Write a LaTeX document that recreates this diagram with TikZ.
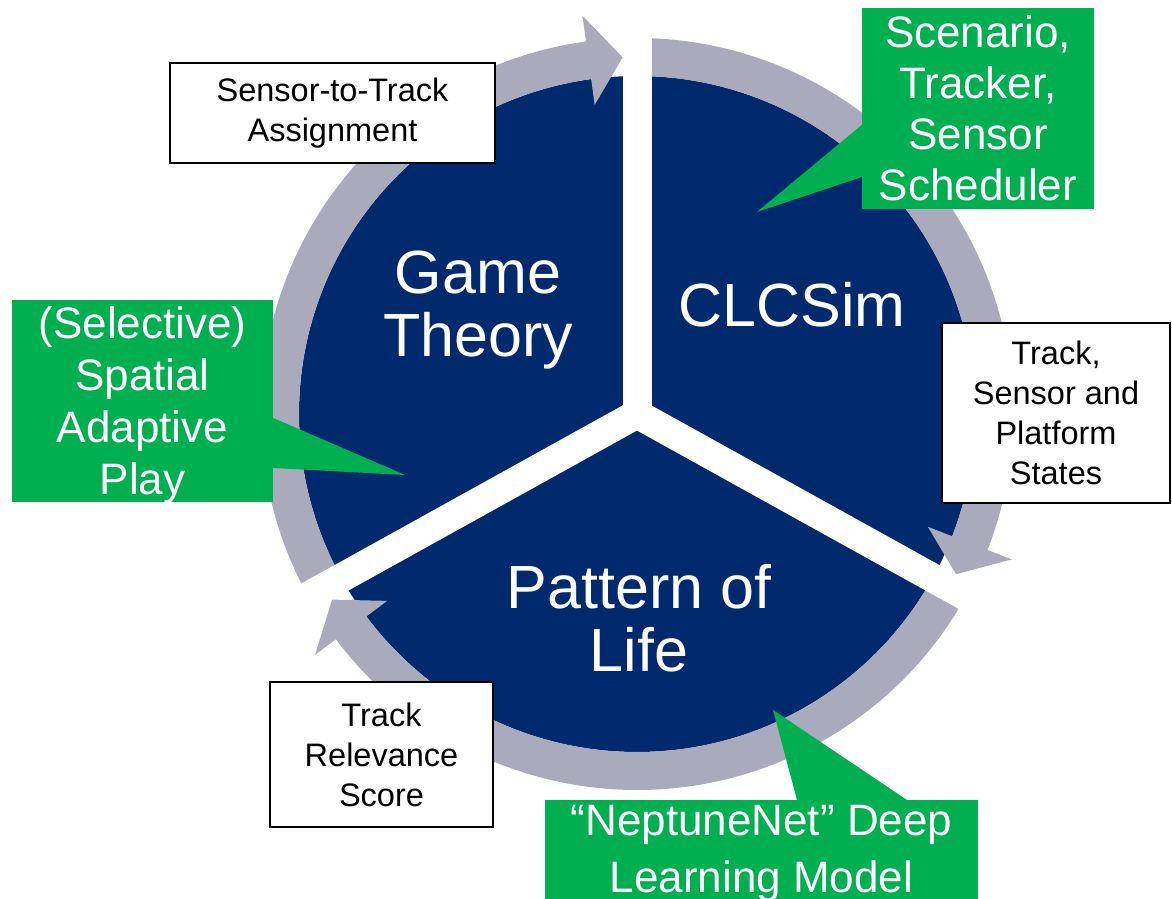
\documentclass[tikz,border=0pt]{standalone}
\usepackage{fontspec}
\setmainfont{Liberation Sans}
\usepackage{tikz}
\usetikzlibrary{positioning,calc}
\definecolor{CycleBlue}{RGB}{0, 41, 110}
\definecolor{RingGrey}{RGB}{169, 171, 189}
\definecolor{NoteGreen}{RGB}{0, 176, 80}

\begin{document}
\begin{tikzpicture}[x=1pt, y=1pt,
    sector/.style={text=white, align=center, font=\fontsize{61}{63}\selectfont},
    note/.style={fill=NoteGreen, text=white, align=center, inner sep=0pt, font=\fontsize{44}{51}\selectfont},
    info/.style={draw=black, line width=2.5pt, fill=white, align=center, inner sep=0pt, font=\fontsize{32.5}{40}\selectfont},
    ring/.style={fill=RingGrey},
    split/.style={draw=white, line width=29pt}
]
    \useasboundingbox (0,0) rectangle (1172,899);
    \clip (0,0) rectangle (1172,899);

    % Disc
    \coordinate (c) at (637,485);
    \fill[CycleBlue] (c) circle[radius=338pt];

    % Cycle arrows (clockwise)
    \begin{scope}[shift={(c)}]
        \fill[ring] (209:376) arc[start angle=209, end angle=97.8, radius=376pt]
            -- (97.8:402) -- (92.3:357) -- (97.8:312) -- (97.8:338)
            arc[start angle=97.8, end angle=209, radius=338pt] -- cycle;
        \fill[ring] (90:376) arc[start angle=90, end angle=-21.2, radius=376pt]
            -- (-21.2:402) -- (-26.67:357) -- (-21.2:312) -- (-21.2:338)
            arc[start angle=-21.2, end angle=90, radius=338pt] -- cycle;
        \fill[ring] (331:376) arc[start angle=331, end angle=216.8, radius=376pt]
            -- (216.8:402) -- (211.33:357) -- (216.8:312) -- (216.8:338)
            arc[start angle=216.8, end angle=331, radius=338pt] -- cycle;
    \end{scope}

    % Dividers
    \draw[split] (c) -- ++(90:430);
    \draw[split] (c) -- ++(209:430);
    \draw[split] (c) -- ++(331:430);

    % Sector titles
    \node[sector] (game) at (478,589) {Game\\Theory};
    \node[sector] (clcsim) at (792,594) {CLCSim};
    \node[sector] (pol) at (639,281) {Pattern of\\Life};

    % Green notes
    \node[note, minimum width=232pt, minimum height=201pt] (sim) at (978,790.5) {Scenario,\\Tracker,\\Sensor\\Scheduler};
    \coordinate (simtip) at (757,687);
    \fill[NoteGreen] ([yshift=-16.5pt]sim.west) -- (simtip) -- ([yshift=-68.5pt]sim.west) -- cycle;

    \node[note, font=\fontsize{44}{52}\selectfont, text depth=0pt, minimum width=261pt, minimum height=202pt] (sap) at (142.5,498) {(Selective)\\Spatial\\Adaptive\\Play};
    \coordinate (saptip) at (405,424);
    \fill[NoteGreen] ([yshift=-17pt]sap.east) -- (saptip) -- ([yshift=-67pt]sap.east) -- cycle;

    \node[note, font=\fontsize{44}{57}\selectfont, minimum width=433pt, inner ysep=5pt, anchor=north] (net) at (761.5,99) {“NeptuneNet” Deep\\Learning Model};
    \coordinate (nettip) at (773,189);
    \fill[NoteGreen] ([xshift=35.5pt]net.north) -- (nettip) -- ([xshift=145.5pt]net.north) -- cycle;

    % Data boxes
    \node[info, minimum width=325pt, minimum height=100pt] (assign) at (332.5,786) {Sensor-to-Track\\Assignment};
    \node[info, minimum width=228pt, minimum height=180pt] (states) at (1056,486) {Track,\\Sensor and\\Platform\\States};
    \node[info, minimum width=223pt, minimum height=145pt] (score) at (381.5,144.5) {Track\\Relevance\\Score};
\end{tikzpicture}
\end{document}
